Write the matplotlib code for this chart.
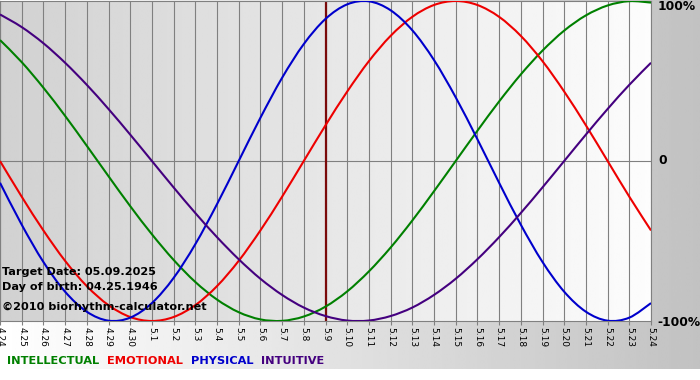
import numpy as np
from matplotlib import pyplot
from matplotlib.path import Path
from matplotlib.patches import PathPatch

DAYS = ["4.24", "4.25", "4.26", "4.27", "4.28", "4.29", "4.30",
        "5.1", "5.2", "5.3", "5.4", "5.5", "5.6", "5.7", "5.8", "5.9",
        "5.10", "5.11", "5.12", "5.13", "5.14", "5.15", "5.16", "5.17",
        "5.18", "5.19", "5.20", "5.21", "5.22", "5.23", "5.24"]
TARGET_DAY = "5.9"

PHYSICAL = [-0.136, -0.398, -0.631, -0.817, -0.942, -0.998, -0.979, -0.888,
            -0.731, -0.520, -0.270, 0.000, 0.270, 0.520, 0.731, 0.888,
            0.979, 0.998, 0.942, 0.817, 0.631, 0.398, 0.136, -0.136,
            -0.398, -0.631, -0.817, -0.942, -0.998, -0.979, -0.888]
EMOTIONAL = [0.000, -0.223, -0.434, -0.624, -0.782, -0.901, -0.975, -1.000,
             -0.975, -0.901, -0.782, -0.624, -0.434, -0.223, 0.000, 0.223,
             0.434, 0.624, 0.782, 0.901, 0.975, 1.000, 0.975, 0.901,
             0.782, 0.624, 0.434, 0.223, 0.000, -0.223, -0.434]
INTELLECTUAL = [0.756, 0.618, 0.458, 0.282, 0.095, -0.095, -0.282, -0.458,
                -0.618, -0.756, -0.866, -0.945, -0.990, -0.999, -0.972, -0.910,
                -0.815, -0.690, -0.541, -0.372, -0.189, 0.000, 0.189, 0.372,
                0.541, 0.690, 0.815, 0.910, 0.972, 0.999, 0.990]
INTUITIVE = [0.916, 0.837, 0.736, 0.614, 0.476, 0.325, 0.165, 0.000,
             -0.165, -0.325, -0.476, -0.614, -0.736, -0.837, -0.916, -0.969,
             -0.997, -0.997, -0.969, -0.916, -0.837, -0.736, -0.614, -0.476,
             -0.325, -0.165, 0.000, 0.165, 0.325, 0.476, 0.614]

GREEN = "#008000"
RED = "#ee0000"
BLUE = "#0000cc"
PURPLE = "#44007f"
GRID = "#808080"
W, H = 700, 380


def smooth_curve(xs, ys):
    # bezier path through the daily points so the line is drawn round
    p = np.column_stack([xs, ys]).astype(float)
    n = len(p)
    verts = [p[0]]
    codes = [Path.MOVETO]
    for i in range(n - 1):
        before = p[max(i - 1, 0)]
        after = p[min(i + 2, n - 1)]
        verts += [p[i] + (p[i + 1] - before) / 6,
                  p[i + 1] - (after - p[i]) / 6,
                  p[i + 1]]
        codes += [Path.CURVE4] * 3
    return Path(verts, codes)


figure = pyplot.figure(figsize=(W / 100, H / 100), dpi=100)

# page background: light on the left, grey on the right
back = figure.add_axes([0, 0, 1, 1], zorder=-10)
back.imshow(np.linspace(1.0, 0.76, 256)[None, :], cmap="gray", vmin=0, vmax=1,
            aspect="auto", extent=[0, W, 11, H], interpolation="bilinear")
back.set_xlim(0, W)
back.set_ylim(0, H)
back.axis("off")

axis = figure.add_axes([0, 1 - 321 / H, 651 / W, 320 / H])
x = np.arange(len(DAYS))
axis.imshow(np.linspace(0.82, 0.99, 256)[None, :], cmap="gray", vmin=0, vmax=1,
            aspect="auto", extent=[0, len(DAYS) - 1, -1, 1], zorder=0,
            interpolation="bilinear")
axis.set_xlim(0, len(DAYS) - 1)
axis.set_ylim(-1, 1)
axis.set_xticks(x)
axis.set_xticklabels(DAYS, rotation=270, fontsize=6.5, ha="center", va="top")
axis.tick_params(axis="x", length=3, color=GRID, pad=1)
axis.set_yticks([])
axis.grid(axis="x", color=GRID, lw=0.8, zorder=1)
axis.axhline(0, color=GRID, lw=0.8, zorder=1)
for side in axis.spines.values():
    side.set_color(GRID)
    side.set_linewidth(0.8)

axis.axvline(DAYS.index(TARGET_DAY), color="#7a0a0a", lw=1.6, zorder=2)
for values, colour in [(INTELLECTUAL, GREEN), (EMOTIONAL, RED),
                       (PHYSICAL, BLUE), (INTUITIVE, PURPLE)]:
    axis.add_patch(PathPatch(smooth_curve(x, values), fill=False,
                             edgecolor=colour, lw=1.5, zorder=3))


def put(px, py, text, **kw):
    figure.text(px / W, 1 - py / H, text, fontweight="bold", **kw)


put(2, 272, "Target Date: 05.09.2025", fontsize=8.1, va="center")
put(2, 287, "Day of birth: 04.25.1946", fontsize=8.1, va="center")
put(2, 307, "©2010 biorhythm-calculator.net", fontsize=8.1, va="center")

put(658, 7, "100%", fontsize=8.8, va="center")
put(658, 161, "0", fontsize=8.8, va="center")
put(657, 322, "-100%", fontsize=8.8, va="center")

legend_x = 7
for label, colour in [("INTELLECTUAL", GREEN), ("EMOTIONAL", RED),
                      ("PHYSICAL", BLUE), ("INTUITIVE", PURPLE)]:
    t = figure.text(legend_x / W, 1 - 361 / H, label, color=colour,
                    fontsize=8.2, fontweight="bold", va="center")
    figure.canvas.draw()
    legend_x += t.get_window_extent().width + 8

figure.savefig("out.png", dpi=100)
